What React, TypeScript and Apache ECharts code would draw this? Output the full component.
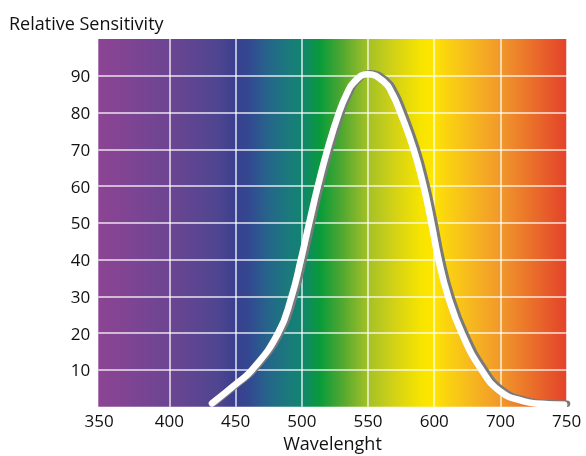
import React, { useEffect, useRef } from "react";
import * as echarts from "echarts";

const tickLabels = [350, 400, 450, 500, 550, 600, 700, 750];
const yTicks = [10, 20, 30, 40, 50, 60, 70, 80, 90];

const wavelengths = [432.2, 450, 462.4, 482.1, 492.3, 499.3, 505.6, 512.1, 519.4, 528.1, 533.8, 539.4, 549.6, 562.1, 568.4, 574.4, 584.4, 591.9, 597.8, 606.5, 620.8, 641.5, 671.4, 700, 717, 730, 748];
const sensitivity = [0.9, 6.1, 10, 20, 30, 40, 50, 60, 70, 80, 85, 88.3, 90.4, 88.3, 85, 80, 70, 60, 50, 40, 30, 20, 10, 4.1, 1.5, 0.8, 0.55];

const spectrumWl = [350, 400, 437, 450, 460, 475, 490, 500, 514, 530, 550, 570, 590, 600, 612, 650, 700, 750];
const spectrumColors = ["#8a4493", "#6c4592", "#4f4590", "#3a3f8f", "#334891", "#25668a", "#1a7a7c", "#108470", "#0a9b3a", "#4fa731", "#a3c126", "#d4d216", "#f7e400", "#ffe600", "#fcd80c", "#f7bc1d", "#f1982a", "#e3422a"];

function wlToPos(w: number): number {
  for (let i = 0; i < tickLabels.length - 1; i++) {
    const a = tickLabels[i];
    const b = tickLabels[i + 1];
    if (w <= b || i === tickLabels.length - 2) {
      return i + (w - a) / (b - a);
    }
  }
  return 0;
}

export default function App() {
  const ref = useRef<HTMLDivElement>(null);
  useEffect(() => {
    if (!ref.current) return;
    const chart = echarts.init(ref.current, undefined, { renderer: "svg" });
    const maxPos = tickLabels.length - 1;
    const minPos = -0.072;
    const tickPositions = tickLabels.map((_, i) => i);
    const gradient = new echarts.graphic.LinearGradient(
      0, 0, 1, 0,
      spectrumWl.map((w, i) => ({
        offset: Math.max(0, (wlToPos(w) - minPos) / (maxPos - minPos)),
        color: spectrumColors[i],
      }))
    );
    const font = "'Open Sans', 'Noto Sans', sans-serif";
    const labelStyle = { fontSize: 17, color: "#111", fontFamily: font };
    chart.setOption({
      animation: false,
      title: {
        text: "Relative Sensitivity",
        left: 4,
        top: 9,
        textStyle: { fontSize: 18, fontWeight: "normal", color: "#111", fontFamily: font },
      },
      grid: {
        left: 98.3,
        right: 19.3,
        top: 39,
        bottom: 49.3,
        containLabel: false,
        outerBoundsMode: "none",
        show: true,
        backgroundColor: gradient,
        borderWidth: 0,
      },
      xAxis: {
        type: "value",
        min: minPos,
        max: maxPos,
        axisLine: { show: false },
        axisTick: { show: false, customValues: tickPositions },
        axisLabel: {
          margin: 5,
          ...labelStyle,
          customValues: tickPositions,
          formatter: (v: number) => {
            const i = Math.round(v);
            const t = String(tickLabels[i] ?? "");
            return i === 0 ? `{first|${t}}` : t;
          },
          rich: { first: { ...labelStyle, padding: [0, 8, 0, 0] } },
        },
        splitLine: {
          show: true,
          showMinLine: false,
          lineStyle: { color: "rgba(255,255,255,0.85)", width: 1.5 },
        },
        name: "Wavelenght",
        nameLocation: "middle",
        nameGap: 27,
        nameTextStyle: { fontSize: 18, color: "#111", fontFamily: font },
      },
      yAxis: {
        type: "value",
        min: 0,
        max: 100,
        interval: 10,
        axisLine: { show: false },
        axisTick: { show: false },
        axisLabel: {
          margin: 8,
          ...labelStyle,
          formatter: (v: number) => (yTicks.indexOf(v) >= 0 ? String(v) : ""),
        },
        splitLine: {
          show: true,
          showMinLine: false,
          showMaxLine: false,
          lineStyle: { color: "rgba(255,255,255,0.85)", width: 1.5 },
        },
      },
      series: [
        {
          type: "line",
          smooth: 0.5,
          symbol: "none",
          data: wavelengths.map((w, i) => [wlToPos(w), sensitivity[i]]),
          lineStyle: {
            color: "#ffffff",
            width: 6.5,
            cap: "round",
            join: "round",
            shadowColor: "#7a7a7a",
            shadowBlur: 0,
            shadowOffsetX: 3,
            shadowOffsetY: -1,
          },
        },
      ],
    });
    return () => chart.dispose();
  }, []);
  return (
    <div
      ref={ref}
      style={{ position: "fixed", left: 0, top: 0, width: 586, height: 456 }}
    />
  );
}
